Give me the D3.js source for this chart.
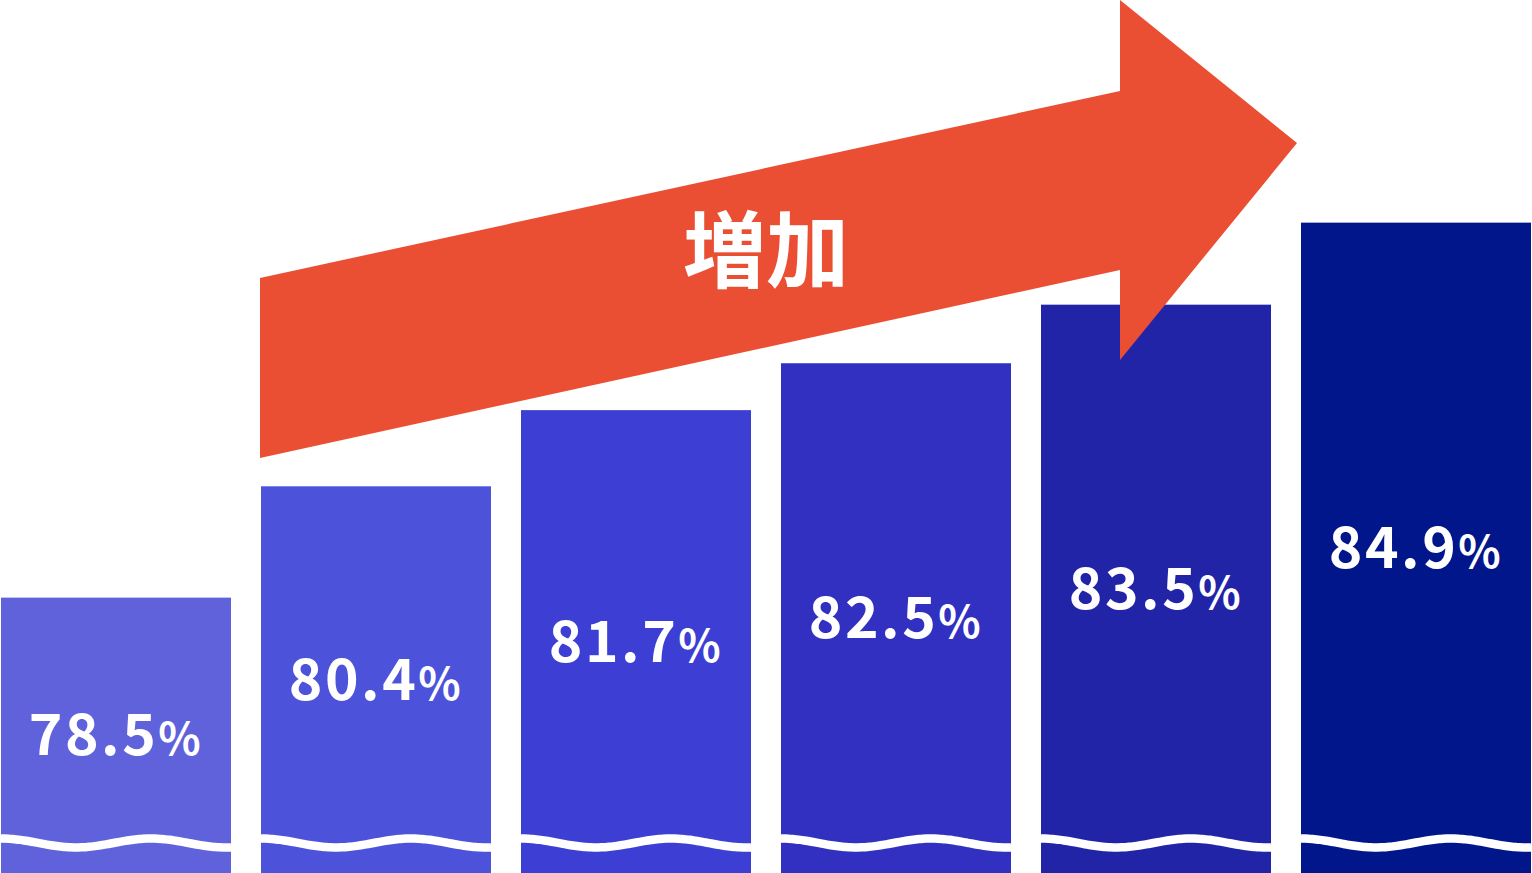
<!DOCTYPE html>
<html><head><meta charset="utf-8">
<script src="https://cdn.jsdelivr.net/npm/d3@7"></script>
<style>html,body{margin:0;padding:0;background:#fff;overflow:hidden}</style>
</head><body>
<svg id="c" width="1532" height="873"></svg>
<script>
const categories = ["1", "2", "3", "4", "5", "6"];
const values = [78.5, 80.4, 81.7, 82.5, 83.5, 84.9];
const barColors = ["#5f62db", "#4c52d9", "#3c3ed4", "#3130c0", "#2224a8", "#01168b"];
const arrowLabel = "増加";

const W = 1532, H = 873;
const svg = d3.select("#c");
const x = d3.scaleBand().domain(categories).range([1, 1531]).paddingInner(30 / 260).paddingOuter(0);
const y = d3.scaleLinear().domain([73.8, 88.7]).range([H, 0]);

const g = svg.append("g");
g.selectAll("rect.bar").data(values).join("rect")
  .attr("class", "bar")
  .attr("x", (d, i) => x(categories[i]))
  .attr("y", d => y(d))
  .attr("width", x.bandwidth())
  .attr("height", d => H - y(d))
  .attr("fill", (d, i) => barColors[i]);

// wave lines
const waveLine = d3.line().curve(d3.curveBasis);
categories.forEach((c, i) => {
  const x0 = x(c), bw = x.bandwidth();
  const pts = d3.range(0, 61).map(k => {
    const t = k / 60;
    return [x0 + t * bw, 843 - 4.5 * Math.cos(t * bw / 150 * 2 * Math.PI)];
  });
  g.append("path").attr("d", waveLine(pts))
    .attr("fill", "none").attr("stroke", "#fff").attr("stroke-width", 8.5);
});

// labels
const lab = g.selectAll("text.lab").data(values).join("text")
  .attr("class", "lab")
  .attr("x", (d, i) => x(categories[i]) + x.bandwidth() / 2)
  .attr("y", d => (y(d) + H) / 2 + 20)
  .attr("text-anchor", "middle")
  .attr("fill", "#fff")
  .attr("font-family", "'Noto Sans CJK JP', 'Noto Sans', sans-serif")
  .attr("font-weight", 700)
  .attr("letter-spacing", "2.5px");
lab.append("tspan").attr("font-size", 57).text(d => d.toFixed(1));
lab.append("tspan").attr("font-size", 44).text("%");

// arrow
const arrowPts = [[260, 278], [1120, 91], [1120, 0], [1297, 143], [1120, 360], [1120, 270], [260, 458]];
svg.append("path")
  .attr("d", d3.line()(arrowPts) + "Z")
  .attr("fill", "#eb4f33");
svg.append("text")
  .attr("x", 766).attr("y", 281)
  .attr("text-anchor", "middle")
  .attr("fill", "#fff")
  .attr("font-family", "'Noto Sans CJK JP', sans-serif")
  .attr("font-weight", 700)
  .attr("font-size", 83)
  .text(arrowLabel);
</script>
</body></html>
